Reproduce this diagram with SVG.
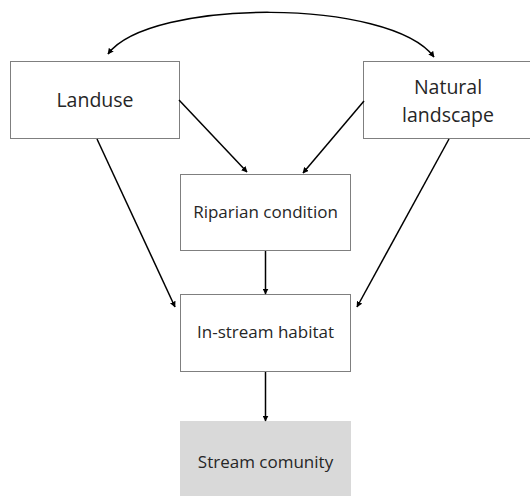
<svg xmlns="http://www.w3.org/2000/svg" width="530" height="496" viewBox="0 0 530 496">
<defs>
<marker id="ah" viewBox="0 0 10 10" refX="9" refY="5" markerWidth="6" markerHeight="6" markerUnits="userSpaceOnUse" orient="auto-start-reverse">
<path d="M0,0 L10,5 L0,10 z" fill="#000"/>
</marker>
</defs>
<style>
.box{fill:#fff;stroke:#7f7f7f;stroke-width:1}
.grey{fill:#d9d9d9;stroke:none}
.lbl{font-family:"Open Sans","Liberation Sans",sans-serif;fill:#262626;text-anchor:middle}
.big{font-size:19.5px}
.sm{font-size:17px}
.con{fill:none;stroke:#000;stroke-width:1.5;marker-end:url(#ah)}
</style>
<rect width="530" height="496" fill="#fff"/>
<g id="landuse">
<rect class="box" x="10.5" y="61.5" width="169" height="77"/>
<text class="lbl big" x="95" y="107">Landuse</text>
</g>
<g id="natural">
<rect class="box" x="363.5" y="61.5" width="170" height="77"/>
<text class="lbl big" x="448" y="94">Natural</text>
<text class="lbl big" x="448" y="121.5">landscape</text>
</g>
<g id="riparian">
<rect class="box" x="180.5" y="174.5" width="170" height="76"/>
<text class="lbl sm" x="265.5" y="218">Riparian condition</text>
</g>
<g id="instream">
<rect class="box" x="180.5" y="294.5" width="170" height="77"/>
<text class="lbl sm" x="265.5" y="338">In-stream habitat</text>
</g>
<g id="community">
<rect class="grey" x="180" y="421" width="171" height="80"/>
<text class="lbl sm" x="265.5" y="467.5">Stream comunity</text>
</g>
<g id="connectors">
<path class="con" style="marker-start:url(#ah)" d="M108,54 C150,-2 390,-2 434,57"/>
<path class="con" d="M179,100 L247,172"/>
<path class="con" d="M364,101 L303,173"/>
<path class="con" d="M97,139 L175,307"/>
<path class="con" d="M449,139 L357,307"/>
<path class="con" d="M265.5,251 L265.5,294"/>
<path class="con" d="M265.5,372 L265.5,421"/>
</g>
</svg>
